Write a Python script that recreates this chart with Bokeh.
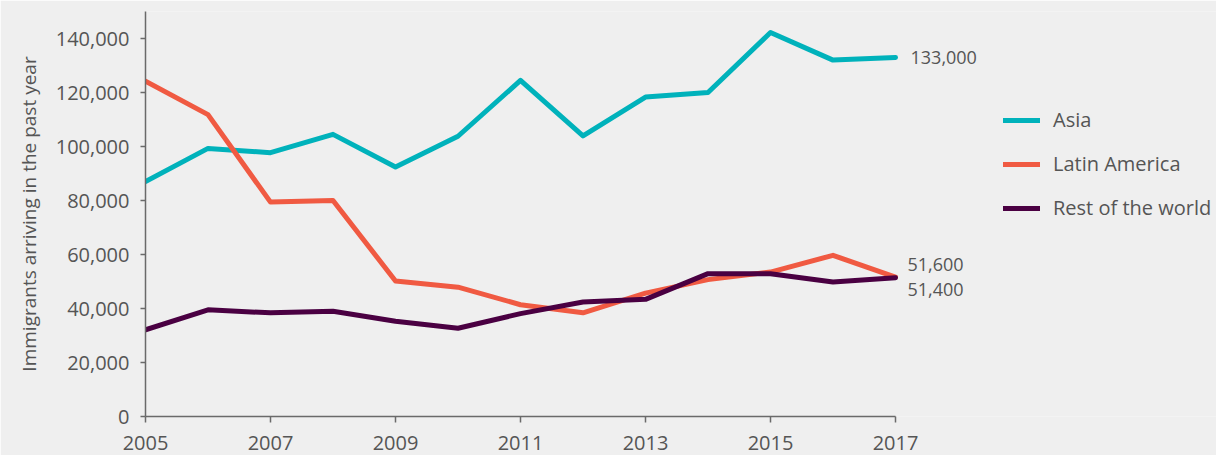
from bokeh.plotting import figure
from bokeh.models import (Range1d, FixedTicker, NumeralTickFormatter, Legend, LegendItem, Title)
from bokeh.core.properties import value
from bokeh.embed import file_html
from bokeh.resources import INLINE

years = [2005, 2006, 2007, 2008, 2009, 2010, 2011, 2012, 2013, 2014, 2015, 2016, 2017]
asia = [87000, 99300, 97700, 104500, 92400, 103800, 124500, 103900, 118300, 120000, 142200, 132000, 133000]
latin_america = [124200, 111800, 79400, 80000, 50200, 47900, 41400, 38400, 45700, 50700, 53500, 59700, 51600]
rest_of_world = [32100, 39500, 38400, 39000, 35300, 32700, 38100, 42400, 43400, 52900, 52900, 49800, 51400]
series_names = ["Asia", "Latin America", "Rest of the world"]
x_ticks = [2005, 2007, 2009, 2011, 2013, 2015, 2017]
y_ticks = [0, 20000, 40000, 60000, 80000, 100000, 120000, 140000]
y_title = "Immigrants arriving in the past year"

BG = "#efefef"
TXT = "#555555"
AX = "#6a6a6a"
colors = ["#00b2bb", "#f05a42", "#4a0042"]
FONT = "Open Sans"

p = figure(width=1216, height=455, frame_width=1071, frame_height=405,
           output_backend="svg", toolbar_location=None,
           x_range=Range1d(2005, 2022.136), y_range=Range1d(0, 150000),
           min_border_left=145, min_border_right=0, min_border_top=11, min_border_bottom=39,
           background_fill_color=BG, border_fill_color=BG, outline_line_color=None)

p.xgrid.visible = False
p.ygrid.visible = False

for ax in (p.xaxis[0], p.yaxis[0]):
    ax.axis_line_color = AX
    ax.axis_line_width = 1.5
    ax.major_tick_line_color = AX
    ax.major_tick_line_width = 1.5
    ax.minor_tick_line_color = None
    ax.major_tick_in = 0
    ax.major_label_text_color = TXT
    ax.major_label_text_font = FONT

p.xaxis.ticker = FixedTicker(ticks=x_ticks)
p.xaxis.bounds = (years[0], years[-1])
p.xaxis.major_tick_out = 6
p.xaxis.major_label_standoff = 13
p.xaxis.major_label_text_font_size = "20px"

p.yaxis.ticker = FixedTicker(ticks=y_ticks)
p.yaxis.formatter = NumeralTickFormatter(format="0,0")
p.yaxis.major_tick_out = 5
p.yaxis.major_label_standoff = 11
p.yaxis.major_label_text_font_size = "20px"

t = Title(text=y_title, align="center", offset=-16, text_font=FONT, text_font_style="normal",
          text_font_size="19px", text_color=TXT, standoff=21)
p.add_layout(t, "left")

renderers = []
for name, vals, c in zip(series_names, [asia, latin_america, rest_of_world], colors):
    r = p.line(years, vals, line_color=c, line_width=5, line_cap="round", line_join="round")
    renderers.append((name, r))

legend = Legend(items=[LegendItem(label=n, renderers=[r]) for n, r in renderers],
                location=(858, 195), orientation="vertical",
                background_fill_alpha=0, border_line_color=None,
                glyph_width=37, glyph_height=20, label_height=20, spacing=17,
                label_standoff=13, padding=0, margin=0,
                label_text_font=FONT, label_text_font_size="20px", label_text_color=TXT)
p.add_layout(legend)

end_vals = [asia[-1], latin_america[-1], rest_of_world[-1]]
end_offsets_x = [15, 12, 12]
end_offsets_y = [0, -13, 12]
p.text(x=[years[-1]] * 3, y=end_vals, text=[f"{v:,}" for v in end_vals],
       x_offset=end_offsets_x, y_offset=end_offsets_y,
       text_baseline="middle", text_align="left", text_font=value(FONT),
       text_font_size="18px", text_color=TXT)

open("out.html", "w").write(file_html(p, INLINE))
